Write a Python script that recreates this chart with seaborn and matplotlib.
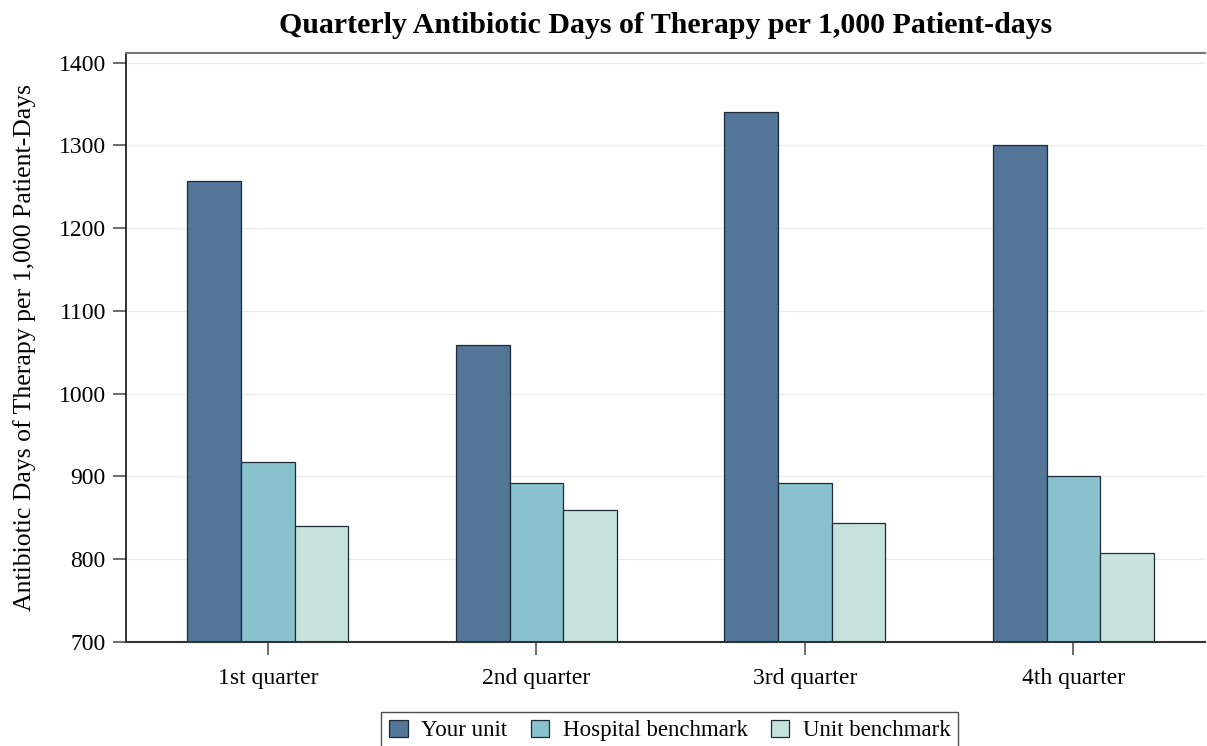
import matplotlib
matplotlib.use("Agg")
import matplotlib.pyplot as plt
import seaborn as sns
import pandas as pd

quarters = ["1st quarter", "2nd quarter", "3rd quarter", "4th quarter"]
series = ["Your unit", "Hospital benchmark", "Unit benchmark"]
your_unit = [1257, 1059, 1340, 1301]
hospital_benchmark = [917, 892, 892, 900]
unit_benchmark = [840, 859, 844, 807]
colors = ["#527598", "#89C1CF", "#C5E3DC"]
yticks = [700, 800, 900, 1000, 1100, 1200, 1300, 1400]

df = pd.DataFrame({
    "quarter": quarters * 3,
    "series": [series[0]] * 4 + [series[1]] * 4 + [series[2]] * 4,
    "value": your_unit + hospital_benchmark + unit_benchmark,
})

sns.set_theme(style="white")
plt.rcParams["font.family"] = ["Liberation Serif", "DejaVu Serif"]
plt.rcParams["text.color"] = "black"
plt.rcParams["axes.labelcolor"] = "black"
plt.rcParams["xtick.color"] = "black"
plt.rcParams["ytick.color"] = "black"

fig = plt.figure(figsize=(12.07, 7.46), dpi=100)
ax = fig.add_axes([0.1044, 0.1394, 0.894, 0.79])

sns.barplot(data=df, x="quarter", y="value", hue="series", order=quarters,
            hue_order=series, palette=colors, saturation=1, width=0.6, gap=0,
            edgecolor="#1d2b38", linewidth=0.9, ax=ax, legend=True)

ax.set_ylim(700, 1412)
ax.set_xlim(-0.528, 3.49)
ax.set_yticks(yticks)
ax.set_yticklabels([str(t) for t in yticks])
ax.tick_params(axis="x", labelsize=17, length=9, width=1.2, color="#555555",
               labelcolor="black", direction="out", pad=10, bottom=True)
ax.tick_params(axis="y", labelsize=17, length=9.5, width=1.2, color="#555555",
               labelcolor="black", direction="out", pad=5, left=True)
ax.yaxis.grid(True, color="#ececec", linewidth=1)
ax.set_axisbelow(True)

ax.spines["right"].set_visible(False)
ax.spines["top"].set_color("#777777")
ax.spines["top"].set_linewidth(1.5)
ax.spines["left"].set_color("#111111")
ax.spines["left"].set_linewidth(1.2)
ax.spines["bottom"].set_color("#333333")
ax.spines["bottom"].set_linewidth(1.5)

ax.set_xlabel("")
ax.set_ylabel("Antibiotic Days of Therapy per 1,000 Patient-Days", fontsize=18.5, labelpad=16)
ax.set_title("Quarterly Antibiotic Days of Therapy per 1,000 Patient-days",
             fontsize=21.5, fontweight="bold", pad=14)

handles, labels = ax.get_legend_handles_labels()
ax.legend_.remove()
leg = fig.legend(handles, labels, loc="lower center", bbox_to_anchor=(0.555, -0.02),
                 ncol=3, fontsize=16.5, frameon=True, fancybox=False, edgecolor="#222222",
                 handlelength=0.8, handleheight=0.8, handletextpad=0.6, columnspacing=1.0,
                 borderpad=0.35)
leg.get_frame().set_linewidth(1.0)

fig.savefig("out.png", dpi=100, facecolor="white")
